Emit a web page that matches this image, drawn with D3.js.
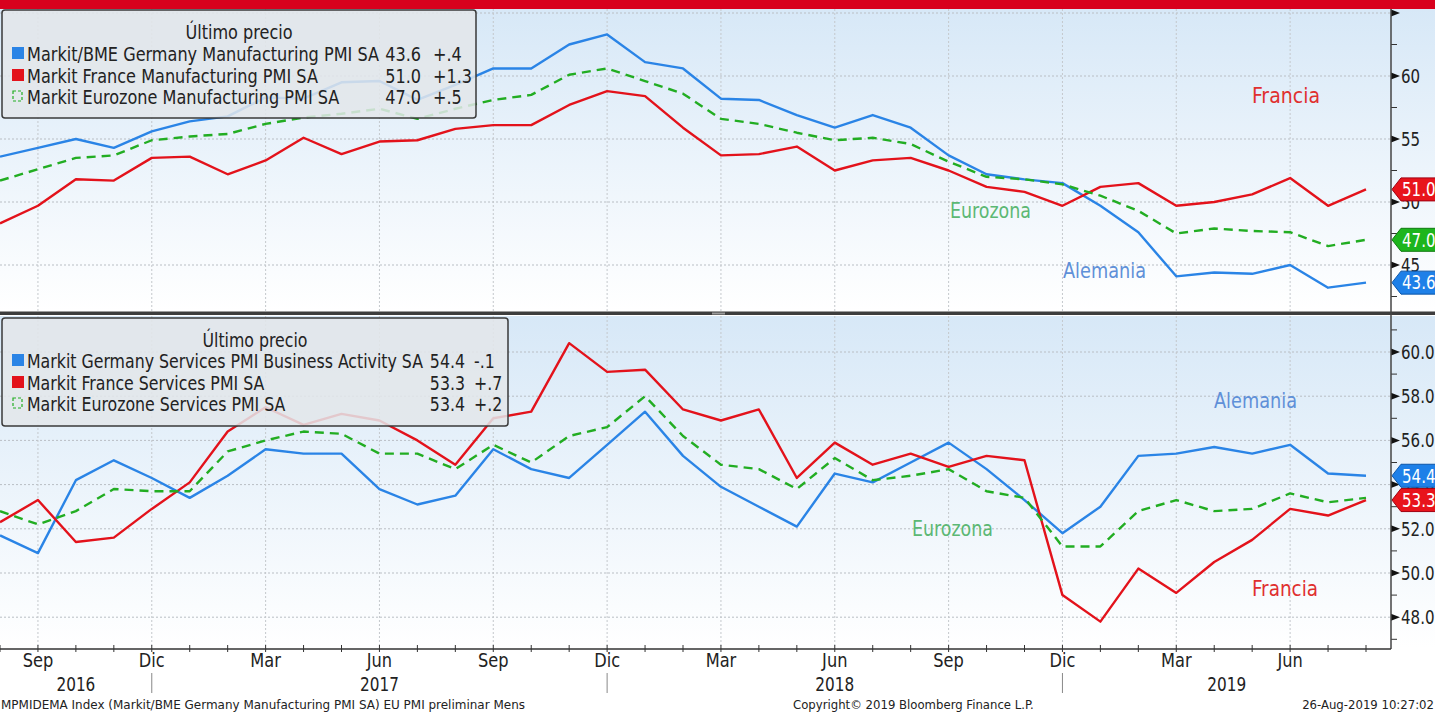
<!DOCTYPE html>
<html><head><meta charset="utf-8">
<script src="https://cdn.jsdelivr.net/npm/d3@7"></script>
<style>
body{margin:0;background:#fff;}
svg{display:block;}
text{font-family:"Liberation Sans Narrow","Arial Narrow","DejaVu Sans Condensed","DejaVu Sans",sans-serif;}
</style></head><body>
<svg id="c" width="1435" height="712"></svg>
<script>
// ---------- DATA ----------
const months = ["2016-08","2016-09","2016-10","2016-11","2016-12",
 "2017-01","2017-02","2017-03","2017-04","2017-05","2017-06","2017-07","2017-08","2017-09","2017-10","2017-11","2017-12",
 "2018-01","2018-02","2018-03","2018-04","2018-05","2018-06","2018-07","2018-08","2018-09","2018-10","2018-11","2018-12",
 "2019-01","2019-02","2019-03","2019-04","2019-05","2019-06","2019-07","2019-08"];
const monthNames = ["Ene","Feb","Mar","Abr","May","Jun","Jul","Ago","Sep","Oct","Nov","Dic"];

const deMfg = [53.6,54.3,55.0,54.3,55.6, 56.4,56.8,58.3,58.2,59.5,59.6,58.1,59.3,60.6,60.6,62.5,63.3,
 61.1,60.6,58.2,58.1,56.9,55.9,56.9,55.9,53.7,52.2,51.8,51.5, 49.7,47.6,44.1,44.4,44.3,45.0,43.2,43.6];
const frMfg = [48.3,49.7,51.8,51.7,53.5, 53.6,52.2,53.3,55.1,53.8,54.8,54.9,55.8,56.1,56.1,57.7,58.8,
 58.4,55.9,53.7,53.8,54.4,52.5,53.3,53.5,52.5,51.2,50.8,49.7, 51.2,51.5,49.7,50.0,50.6,51.9,49.7,51.0];
const ezMfg = [51.7,52.6,53.5,53.7,54.9, 55.2,55.4,56.2,56.7,57.0,57.4,56.6,57.4,58.1,58.5,60.1,60.6,
 59.6,58.6,56.6,56.2,55.5,54.9,55.1,54.6,53.2,52.0,51.8,51.4, 50.5,49.3,47.5,47.9,47.7,47.6,46.5,47.0];

const deSvc = [51.7,50.9,54.2,55.1,54.3, 53.4,54.4,55.6,55.4,55.4,53.8,53.1,53.5,55.6,54.7,54.3,55.8,
 57.3,55.3,53.9,53.0,52.1,54.5,54.1,55.0,55.9,54.7,53.3,51.8, 53.0,55.3,55.4,55.7,55.4,55.8,54.5,54.4];
const frSvc = [52.3,53.3,51.4,51.6,52.9, 54.1,56.4,57.5,56.7,57.2,56.9,56.0,54.9,57.0,57.3,60.4,59.1,
 59.2,57.4,56.9,57.4,54.3,55.9,54.9,55.4,54.8,55.3,55.1,49.0, 47.8,50.2,49.1,50.5,51.5,52.9,52.6,53.3];
const ezSvc = [52.8,52.2,52.8,53.8,53.7, 53.7,55.5,56.0,56.4,56.3,55.4,55.4,54.7,55.8,55.0,56.2,56.6,
 58.0,56.2,54.9,54.7,53.8,55.2,54.2,54.4,54.7,53.7,53.4,51.2, 51.2,52.8,53.3,52.8,52.9,53.6,53.2,53.4];

const topMajor = [45,50,55,60,65];
const topMinor = [42.5,47.5,52.5,57.5,62.5];
const topLabels = ["45","50","55","60"];
const botMajor = [48,50,52,54,56,58,60];
const botMinor = [47,49,51,53,55,57,59,61];
const botLabels = ["48.0","50.0","52.0","54.0","56.0","58.0","60.0"];

const legendTitle = "Último precio";
const topNames = ["Markit/BME Germany Manufacturing PMI SA","Markit France Manufacturing PMI SA","Markit Eurozone Manufacturing PMI SA"];
const topLast = ["43.6","51.0","47.0"];
const topChg = ["+.4","+1.3","+.5"];
const botNames = ["Markit Germany Services PMI Business Activity SA","Markit France Services PMI SA","Markit Eurozone Services PMI SA"];
const botLast = ["54.4","53.3","53.4"];
const botChg = ["-.1","+.7","+.2"];
const countryNames = ["Alemania","Francia","Eurozona"];
const footerLeft = "MPMIDEMA Index (Markit/BME Germany Manufacturing PMI SA) EU PMI preliminar  Mens";
const footerMid = "Copyright\u00A9 2019 Bloomberg Finance L.P.";
const footerRight = "26-Aug-2019 10:27:02";

// ---------- LAYOUT ----------
const W = 1435, H = 712, plotR = 1391;
const BLUE = "#2a84e6", RED = "#e3121b", GREEN = "#22ad22";
const svg = d3.select("#c");
const parse = d3.timeParse("%Y-%m");
const dates = months.map(parse);
const x = d3.scaleLinear().domain([0, months.length - 1]).range([0, 1366]);

function condense(sel, k) {
  sel.each(function () {
    const w = this.getComputedTextLength();
    d3.select(this).attr("textLength", w * k).attr("lengthAdjust", "spacingAndGlyphs");
  });
}
function fitTo(sel, target) {
  sel.attr("textLength", target).attr("lengthAdjust", "spacingAndGlyphs");
}

const defs = svg.append("defs");
const g = defs.append("linearGradient").attr("id","bg").attr("x1",0).attr("y1",0).attr("x2",0).attr("y2",1);
g.append("stop").attr("offset",0).attr("stop-color","#d7e8f7");
g.append("stop").attr("offset",1).attr("stop-color","#ffffff");

// top red bar
svg.append("rect").attr("x",0).attr("y",0).attr("width",W).attr("height",9).attr("fill","#d8001d");

const panels = [
 {id:"p1", y0:9, y1:311, y:d3.scaleLinear().domain([45,60]).range([265,76]),
  series:[{v:deMfg,c:BLUE},{v:frMfg,c:RED},{v:ezMfg,c:GREEN,dash:true}],
  major:topMajor, minor:topMinor, labels:topLabels,
  names:topNames, last:topLast, chg:topChg, row1W:352,
  legend:{x:2,y:10,w:474,h:108,title:39,rows:[61,83,104],valR:421,chgX:433},
  tags:[{v:51.0,c:"#e8141c",s:"#a00010"},{v:47.0,c:"#1db51d",s:"#0f7a0f"},{v:43.6,c:"#1e80e8",s:"#0d56a8"}],
  notes:[{t:countryNames[1],x:1252,y:103,w:68,c:"#e0302f"},{t:countryNames[2],x:950,y:218,w:81,c:"#5cb874"},{t:countryNames[0],x:1063,y:278,w:83,c:"#5f90d8"}]},
 {id:"p2", y0:316, y1:648, y:d3.scaleLinear().domain([48,60]).range([617.2,352]),
  series:[{v:deSvc,c:BLUE},{v:frSvc,c:RED},{v:ezSvc,c:GREEN,dash:true}],
  major:botMajor, minor:botMinor, labels:botLabels,
  names:botNames, last:botLast, chg:botChg, row1W:396,
  legend:{x:2,y:318,w:506,h:108,title:347,rows:[368,390,411],valR:465,chgX:474},
  tags:[{v:54.4,c:"#1e80e8",s:"#0d56a8"},{v:53.3,c:"#e8141c",s:"#a00010"}],
  notes:[{t:countryNames[0],x:1214,y:408,w:83,c:"#5f90d8"},{t:countryNames[2],x:912,y:536,w:81,c:"#5cb874"},{t:countryNames[1],x:1252,y:596,w:66,c:"#e0302f"}]}
];

panels.forEach(p => {
  const y = p.y;
  svg.append("rect").attr("x",0).attr("y",p.y0).attr("width",W).attr("height",p.y1-p.y0).attr("fill","url(#bg)");
  defs.append("clipPath").attr("id","clip-"+p.id).append("rect")
    .attr("x",0).attr("y",p.y0).attr("width",plotR).attr("height",p.y1-p.y0);
  const pg = svg.append("g").attr("clip-path","url(#clip-"+p.id+")");
  pg.selectAll(".hg").data(p.major).join("line")
    .attr("x1",0).attr("x2",plotR).attr("y1",d=>y(d)).attr("y2",d=>y(d))
    .attr("stroke","#b9bec4").attr("stroke-width",1).attr("stroke-dasharray","2,2");
  const q = dates.map((d,i)=>({d,i})).filter(o => (o.d.getMonth()+1) % 3 === 0);
  pg.selectAll(".vg").data(q).join("line")
    .attr("x1",o=>x(o.i)).attr("x2",o=>x(o.i)).attr("y1",p.y0).attr("y2",p.y1)
    .attr("stroke","#c4c8cc").attr("stroke-width",1).attr("stroke-dasharray","2,2");
  const notes = pg.selectAll(".note").data(p.notes).join("text")
    .attr("x",d=>d.x).attr("y",d=>d.y).attr("fill",d=>d.c).attr("font-size",21).text(d=>d.t);
  notes.each(function(d){ fitTo(d3.select(this), d.w); });
  const line = d3.line().x((d,i)=>x(i)).y(d=>y(d));
  p.series.forEach(s => {
    pg.append("path").datum(s.v).attr("d",line).attr("fill","none")
      .attr("stroke",s.c).attr("stroke-width",2.4).attr("stroke-linejoin","round")
      .attr("stroke-dasharray",s.dash?"9,6":null);
  });
  // legend
  const L = p.legend;
  const lg = svg.append("g");
  lg.append("rect").attr("x",L.x).attr("y",L.y).attr("width",L.w).attr("height",L.h).attr("rx",3)
    .attr("fill","#e3e6ea").attr("fill-opacity",0.86).attr("stroke","#3a3a3a").attr("stroke-width",1.5);
  const texts = [];
  texts.push(lg.append("text").attr("x",L.x+L.w/2).attr("y",L.title).attr("text-anchor","middle")
    .attr("font-size",20).attr("fill","#222").text(legendTitle));
  let first = null;
  p.series.forEach((s,i) => {
    const ry = L.rows[i];
    if (s.dash) {
      lg.append("rect").attr("x",13).attr("y",ry-13).attr("width",9).attr("height",10)
        .attr("fill","none").attr("stroke",s.c).attr("stroke-width",1.2).attr("stroke-dasharray","3,2");
    } else {
      lg.append("rect").attr("x",12).attr("y",ry-14).attr("width",12).attr("height",12).attr("fill",s.c);
    }
    const t = lg.append("text").attr("x",27).attr("y",ry).attr("font-size",20).attr("fill","#222").text(p.names[i]);
    if (i === 0) first = t;
    texts.push(t);
    texts.push(lg.append("text").attr("x",L.valR).attr("y",ry).attr("text-anchor","end").attr("font-size",20).attr("fill","#222").text(p.last[i]));
    texts.push(lg.append("text").attr("x",L.chgX).attr("y",ry).attr("font-size",20).attr("fill","#222").text(p.chg[i]));
  });
  const k = p.row1W / first.node().getComputedTextLength();
  texts.forEach(t => condense(t, k));
  // right axis ticks
  const ag = svg.append("g");
  ag.selectAll(".mn").data(p.minor.filter(v=>y(v)>p.y0 && y(v)<p.y1)).join("line")
    .attr("x1",plotR).attr("x2",plotR+6).attr("y1",d=>y(d)).attr("y2",d=>y(d)).attr("stroke","#333");
  ag.selectAll(".mj").data(p.major.filter(v=>y(v)>p.y0 && y(v)<p.y1)).join("path")
    .attr("d",d=>`M${plotR},${y(d)-3.5}L${plotR+9},${y(d)}L${plotR},${y(d)+3.5}Z`).attr("fill","#111");
  const lbs = ag.selectAll(".lb").data(p.labels).join("text")
    .attr("x",plotR+10).attr("y",d=>y(+d)).attr("dy","0.36em").attr("font-size",19).attr("fill","#222").text(d=>d);
  condense(lbs, 0.88);
  // value tags
  p.tags.forEach(t => {
    const yc = y(t.v);
    svg.append("path").attr("d",`M${plotR+1},${yc}L${plotR+10},${yc-11.5}L${W+2},${yc-11.5}L${W+2},${yc+11.5}L${plotR+10},${yc+11.5}Z`)
      .attr("fill",t.c).attr("stroke",t.s).attr("stroke-width",1);
    const tt = svg.append("text").attr("x",plotR+11).attr("y",yc).attr("dy","0.36em").attr("font-size",19)
      .attr("fill","#fff").text(d3.format(".1f")(t.v));
    condense(tt, 0.88);
  });
});

// separator between panels
svg.append("rect").attr("x",0).attr("y",311.5).attr("width",W).attr("height",3.5).attr("fill","#3d3d3d");
svg.append("rect").attr("x",712).attr("y",312.5).attr("width",13).attr("height",2).attr("fill","#9a9a9a");
// right axis line
svg.append("line").attr("x1",plotR).attr("x2",plotR).attr("y1",9).attr("y2",649).attr("stroke","#444").attr("stroke-width",1.5);
// bottom axis
svg.append("line").attr("x1",0).attr("x2",plotR).attr("y1",649).attr("y2",649).attr("stroke","#333").attr("stroke-width",1.3);
svg.selectAll(".xt").data(dates).join("line")
  .attr("x1",(d,i)=>x(i)).attr("x2",(d,i)=>x(i)).attr("y1",645).attr("y2",652).attr("stroke","#333");
const qm = dates.map((d,i)=>({d,i})).filter(o => (o.d.getMonth()+1) % 3 === 0);
const xl = svg.selectAll(".xl").data(qm).join("text")
  .attr("x",o=>x(o.i)).attr("y",667).attr("text-anchor","middle").attr("font-size",20).attr("fill","#222")
  .text(o=>monthNames[o.d.getMonth()]);
condense(xl, 0.9);
const decs = dates.map((d,i)=>({d,i})).filter(o => o.d.getMonth() === 11);
svg.selectAll(".ys").data(decs).join("line")
  .attr("x1",o=>x(o.i)).attr("x2",o=>x(o.i)).attr("y1",673).attr("y2",693).attr("stroke","#888");
const bounds = [0, ...decs.map(o=>x(o.i)), plotR];
const years = [dates[0].getFullYear(), ...decs.map(o=>o.d.getFullYear()+1)];
const yl = svg.selectAll(".yl").data(years).join("text")
  .attr("x",(d,i)=>(bounds[i]+bounds[i+1])/2).attr("y",691).attr("text-anchor","middle")
  .attr("font-size",20).attr("fill","#222").text(d=>d);
condense(yl, 0.85);
// footer
const f1 = svg.append("text").attr("x",1).attr("y",709).attr("font-size",13).attr("fill","#222").text(footerLeft);
fitTo(f1, 524);
svg.append("text").attr("x",793).attr("y",709).attr("font-size",13).attr("fill","#222").text(footerMid);
svg.append("text").attr("x",1434).attr("y",709).attr("text-anchor","end").attr("font-size",13).attr("fill","#222").text(footerRight);
</script>
</body></html>
